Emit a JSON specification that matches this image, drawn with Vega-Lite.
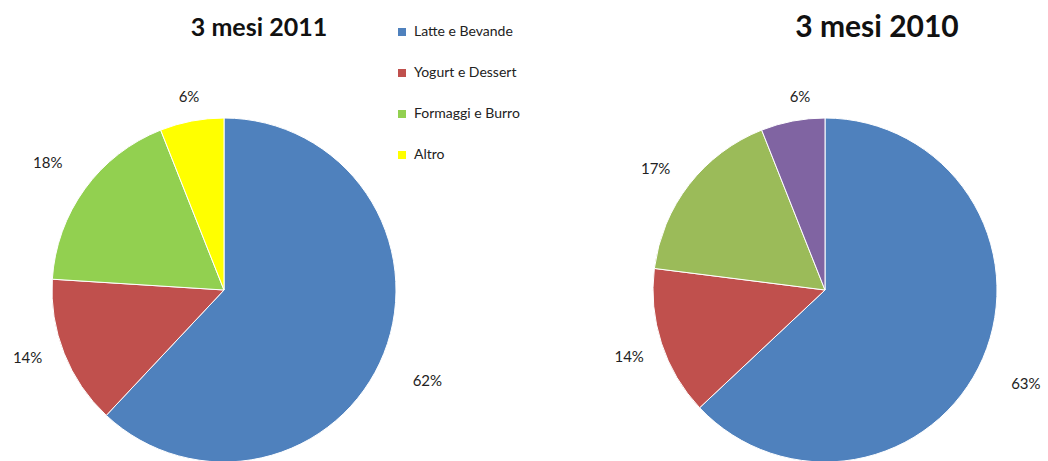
{
  "$schema": "https://vega.github.io/schema/vega-lite/v6.json",
  "padding": {"left": 0, "top": 12, "right": 0, "bottom": 0},
  "background": "white",
  "spacing": 81,
  "config": {"view": {"stroke": null}, "font": "Lato", "text": {"font": "Lato", "fontSize": 15, "color": "#222", "radius": 208}},
  "data": {"values": [
    {"periodo": "2011", "categoria": "Latte e Bevande", "valore": 0.62, "ordine": 1},
    {"periodo": "2011", "categoria": "Yogurt e Dessert", "valore": 0.14, "ordine": 2},
    {"periodo": "2011", "categoria": "Formaggi e Burro", "valore": 0.18, "ordine": 3},
    {"periodo": "2011", "categoria": "Altro", "valore": 0.06, "ordine": 4},
    {"periodo": "2010", "categoria": "Latte e Bevande", "valore": 0.63, "ordine": 1},
    {"periodo": "2010", "categoria": "Yogurt e Dessert", "valore": 0.14, "ordine": 2},
    {"periodo": "2010", "categoria": "Formaggi e Burro", "valore": 0.17, "ordine": 3},
    {"periodo": "2010", "categoria": "Altro", "valore": 0.06, "ordine": 4}
  ]},
  "hconcat": [
    {
      "width": 448,
      "height": 344,
      "title": {"text": "3 mesi 2011", "font": "Lato", "fontSize": 25, "fontWeight": "bold", "color": "#111", "anchor": "middle", "frame": "group", "dx": 35, "baseline": "alphabetic", "offset": -36},
      "transform": [{"filter": "datum.periodo === '2011'"}],
      "encoding": {
        "theta": {"field": "valore", "type": "quantitative", "stack": true},
        "order": {"field": "ordine", "type": "quantitative"}
      },
      "layer": [
        {
          "mark": {"type": "arc", "stroke": "white", "strokeWidth": 1},
          "encoding": {
            "color": {
              "field": "categoria", "type": "nominal",
              "scale": {"domain": ["Latte e Bevande", "Yogurt e Dessert", "Formaggi e Burro", "Altro"], "range": ["#4F81BD", "#C0504D", "#92D050", "#FFFF00"]},
              "legend": {"title": null, "orient": "none", "legendX": 395, "legendY": -93, "symbolType": "square", "symbolSize": 64, "symbolStrokeWidth": 0, "labelFont": "Lato", "labelFontSize": 14, "labelColor": "#222", "rowPadding": 27, "labelOffset": 5, "padding": 0}
            }
          }
        },
        {
          "mark": {"type": "text", "dx": 10, "dy": 14},
          "encoding": {
            "text": {"field": "valore", "type": "quantitative", "format": ".0%"},
            "opacity": {"condition": {"test": "datum.ordine === 1", "value": 1}, "value": 0}
          }
        },
        {
          "mark": {"type": "text", "dx": -3, "dy": -9},
          "encoding": {
            "text": {"field": "valore", "type": "quantitative", "format": ".0%"},
            "opacity": {"condition": {"test": "datum.ordine === 2", "value": 1}, "value": 0}
          }
        },
        {
          "mark": {"type": "text", "dx": -8, "dy": -5},
          "encoding": {
            "text": {"field": "valore", "type": "quantitative", "format": ".0%"},
            "opacity": {"condition": {"test": "datum.ordine === 3", "value": 1}, "value": 0}
          }
        },
        {
          "mark": {"type": "text", "dx": 4, "dy": 11},
          "encoding": {
            "text": {"field": "valore", "type": "quantitative", "format": ".0%"},
            "opacity": {"condition": {"test": "datum.ordine === 4", "value": 1}, "value": 0}
          }
        }
      ]
    },
    {
      "width": 448,
      "height": 344,
      "title": {"text": "3 mesi 2010", "font": "Lato", "fontSize": 30, "fontWeight": "bold", "color": "#111", "anchor": "middle", "frame": "group", "dx": 52, "baseline": "alphabetic", "offset": 15},
      "transform": [{"filter": "datum.periodo === '2010'"}],
      "encoding": {
        "theta": {"field": "valore", "type": "quantitative", "stack": true},
        "order": {"field": "ordine", "type": "quantitative"}
      },
      "layer": [
        {
          "mark": {"type": "arc", "stroke": "white", "strokeWidth": 1},
          "encoding": {
            "color": {
              "field": "categoria", "type": "nominal",
              "scale": {"domain": ["Latte e Bevande", "Yogurt e Dessert", "Formaggi e Burro", "Altro"], "range": ["#4F81BD", "#C0504D", "#9BBB59", "#8064A2"]},
              "legend": null
            }
          }
        },
        {
          "mark": {"type": "text", "dx": 10, "dy": 11},
          "encoding": {
            "text": {"field": "valore", "type": "quantitative", "format": ".0%"},
            "opacity": {"condition": {"test": "datum.ordine === 1", "value": 1}, "value": 0}
          }
        },
        {
          "mark": {"type": "text", "dx": 2, "dy": 3},
          "encoding": {
            "text": {"field": "valore", "type": "quantitative", "format": ".0%"},
            "opacity": {"condition": {"test": "datum.ordine === 2", "value": 1}, "value": 0}
          }
        },
        {
          "mark": {"type": "text", "dx": -5, "dy": 6},
          "encoding": {
            "text": {"field": "valore", "type": "quantitative", "format": ".0%"},
            "opacity": {"condition": {"test": "datum.ordine === 3", "value": 1}, "value": 0}
          }
        },
        {
          "mark": {"type": "text", "dx": 14, "dy": 11},
          "encoding": {
            "text": {"field": "valore", "type": "quantitative", "format": ".0%"},
            "opacity": {"condition": {"test": "datum.ordine === 4", "value": 1}, "value": 0}
          }
        }
      ]
    }
  ],
  "resolve": {"scale": {"color": "independent", "theta": "independent"}, "legend": {"color": "independent"}}
}
